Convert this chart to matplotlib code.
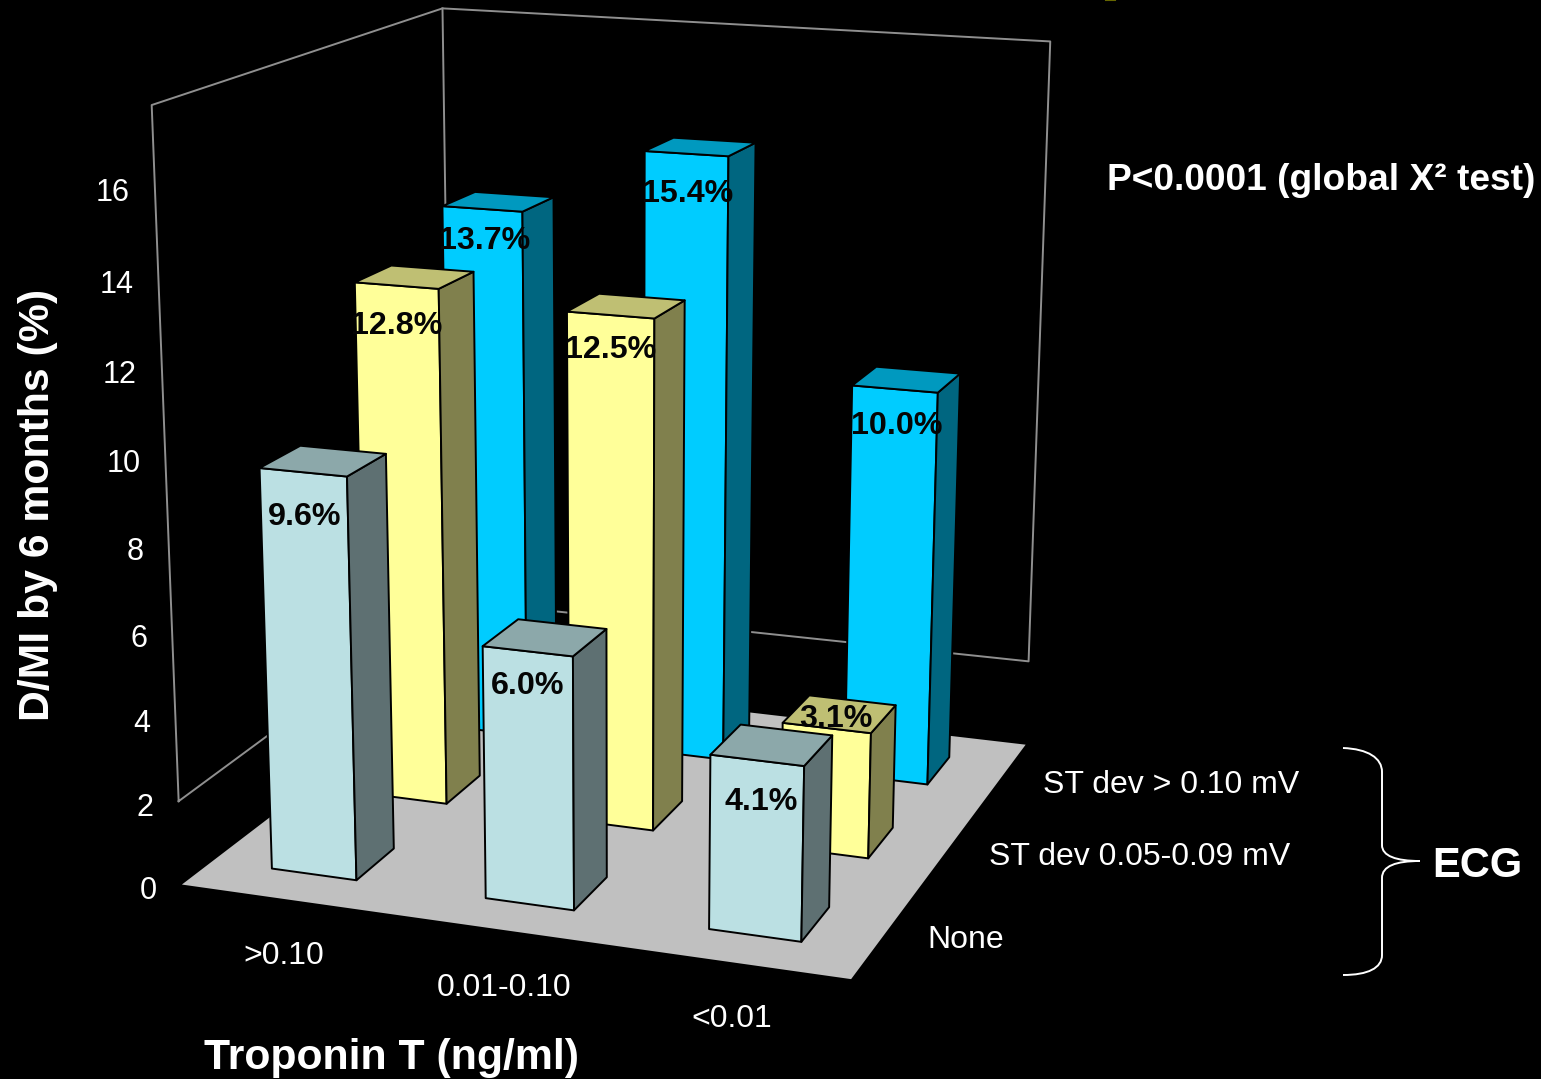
import numpy as np
import matplotlib
matplotlib.use('Agg')
import matplotlib.pyplot as plt
from matplotlib.patches import Polygon, PathPatch
from matplotlib.path import Path

plt.rcParams['font.family'] = ['Liberation Sans', 'DejaVu Sans']

# D/MI rates by troponin group, one list per ECG group
troponin_labels = ['>0.10', '0.01-0.10', '<0.01']
ecg_labels = ['None', 'ST dev 0.05-0.09 mV', 'ST dev > 0.10 mV']
none_values = [9.6, 6.0, 4.1]
st_low_values = [12.8, 12.5, 3.1]
st_high_values = [13.7, 15.4, 10.0]
y_ticks = [0, 2, 4, 6, 8, 10, 12, 14, 16]

series = [none_values, st_low_values, st_high_values]

# face colours: front, side, top
face_colors = [('#BBE0E3', '#5E7072', '#8CA8AA'),
               ('#FFFF99', '#80804D', '#BFBF73'),
               ('#00CCFF', '#006680', '#0099BF')]

# camera: floor corners and wall tops, (troponin, ecg, height) -> image position
camera_world = [(0, 0, 0), (3, 0, 0), (3, 3, 0), (0, 3, 0),
                (0, 0, 18.15), (0, 3, 17.95), (3, 3, 17.95)]
camera_image = [(181, 884), (852, 979), (1025, 745), (453, 678),
                (152, 105), (443, 8), (1049, 41)]
camera_weight = [4, 4, 4, 4, 1, 1, 1]


def fit_camera(world, image, weight):
    rows, rhs = [], []
    for (x, y, z), (u, v), k in zip(world, image, weight):
        rows.append([k * c for c in [x, y, z, 1, 0, 0, 0, 0, -u * x, -u * y, -u * z]])
        rows.append([k * c for c in [0, 0, 0, 0, x, y, z, 1, -v * x, -v * y, -v * z]])
        rhs += [k * u, k * v]
    p = np.linalg.lstsq(np.array(rows, float), np.array(rhs, float), rcond=None)[0]
    return np.append(p, 1).reshape(3, 4)


P = fit_camera(camera_world, camera_image, camera_weight)


def project(x, y, z):
    u, v, w = P @ np.array([x, y, z, 1.0])
    return u / w, v / w


fig = plt.figure(figsize=(15.41, 10.79), dpi=100, facecolor='black')
ax = fig.add_axes([0, 0, 1, 1])
ax.set_xlim(0, 1541)
ax.set_ylim(1079, 0)
ax.axis('off')

# walls
wall_color = '#8F8F8F'
wall_low = [2.03, 2.2, 2.25]
wall_high = [17.9, 18.1, 18.03]
wall_xy = [(0, 0), (0, 3), (3, 3)]
low = [project(x, y, z) for (x, y), z in zip(wall_xy, wall_low)]
high = [project(x, y, z) for (x, y), z in zip(wall_xy, wall_high)]
outline = low + high[::-1] + [low[0]]
ax.plot(*zip(*outline), color=wall_color, lw=1.4, zorder=1)
ax.plot(*zip(low[1], high[1]), color=wall_color, lw=1.4, zorder=1)

# floor
floor = [project(x, y, 0) for x, y in [(0, 0), (3, 0), (3, 3), (0, 3)]]
ax.add_patch(Polygon(floor, closed=True, fc='#C0C0C0', ec='none', zorder=2))

# bars, back row first so the nearer ones cover them
bar_start_x = 0.283
bar_pitch_x = 1.006
bar_width_x = 0.403
bar_start_y = 0.30
bar_width_y = 0.40
label_shift = {(0, 0): (2, 42), (1, 0): (0, 32), (2, 0): (4, 39),
               (0, 1): (0, 37), (1, 1): (0, 32), (2, 1): (9, -12),
               (0, 2): (2, 29), (1, 2): (1, 37), (2, 2): (2, 34)}
zorder = 3
for j in [2, 1, 0]:
    for i, value in enumerate(series[j]):
        x0 = bar_start_x + i * bar_pitch_x
        x1 = x0 + bar_width_x
        y0, y1 = j + bar_start_y, j + bar_start_y + bar_width_y
        front, side, top = face_colors[j]
        faces = [([(x0, y0, 0), (x1, y0, 0), (x1, y0, value), (x0, y0, value)], front),
                 ([(x1, y0, 0), (x1, y1, 0), (x1, y1, value), (x1, y0, value)], side),
                 ([(x0, y0, value), (x1, y0, value), (x1, y1, value), (x0, y1, value)], top)]
        for corners, color in faces:
            ax.add_patch(Polygon([project(*c) for c in corners], closed=True, fc=color,
                                 ec='black', lw=1.4, joinstyle='round', zorder=zorder))
        zorder += 1

text_drop = 3
for j in range(3):
    for i, value in enumerate(series[j]):
        x0 = bar_start_x + i * bar_pitch_x
        cx, cy = project(x0 + bar_width_x / 2, j + bar_start_y, value)
        dx, dy = label_shift[(i, j)]
        ax.text(cx + dx, cy + dy + text_drop, f'{value:.1f}%', fontsize=23.2, fontweight='bold',
                color='#050505', ha='center', va='center', zorder=50)

# height axis labels run along the front wall edge
tick_scale = 1.008
for tick in y_ticks:
    tx, ty = project(0, 0, tick * tick_scale)
    ax.text(tx - 25, ty + 3 + text_drop, str(tick), fontsize=22, color='white', ha='right', va='center')

for text, tx, ty in zip(troponin_labels, [284, 504, 732], [953, 985, 1016]):
    ax.text(tx, ty + text_drop, text, fontsize=23, color='white', ha='center', va='center')
for text, tx, ty in zip(ecg_labels, [927, 989, 1043], [937, 854, 782]):
    ax.text(tx, ty + text_drop, text, fontsize=23, color='white', ha='left', va='center')

ax.text(38, 505, 'D/MI by 6 months (%)', fontsize=30.8, fontweight='bold', color='white',
        rotation=90, ha='center', va='center')
ax.text(392, 1055 + text_drop, 'Troponin T (ng/ml)', fontsize=30.8, fontweight='bold', color='white',
        ha='center', va='center')
ax.text(1321, 177 + text_drop, 'P<0.0001 (global X² test)', fontsize=26.7, fontweight='bold', color='white',
        ha='center', va='center')
ax.text(1477, 863 + text_drop, 'ECG', fontsize=30, fontweight='bold', color='white', ha='center', va='center')

# curly brace beside the ECG groups
brace = [(1343, 748), (1368, 749), (1382, 758), (1382, 772),
         (1382, 845), (1382, 856), (1396, 861), (1420, 861),
         (1396, 861), (1382, 866), (1382, 878),
         (1382, 955), (1382, 968), (1368, 975), (1343, 975)]
codes = [Path.MOVETO, Path.CURVE4, Path.CURVE4, Path.CURVE4,
         Path.LINETO, Path.CURVE4, Path.CURVE4, Path.CURVE4,
         Path.CURVE4, Path.CURVE4, Path.CURVE4,
         Path.LINETO, Path.CURVE4, Path.CURVE4, Path.CURVE4]
ax.add_patch(PathPatch(Path(brace, codes), fc='none', ec='white', lw=1.4))

ax.plot([1106, 1115], [0, 0], color='#666600', lw=1.5)

fig.savefig('out.png', dpi=100, facecolor='black')
